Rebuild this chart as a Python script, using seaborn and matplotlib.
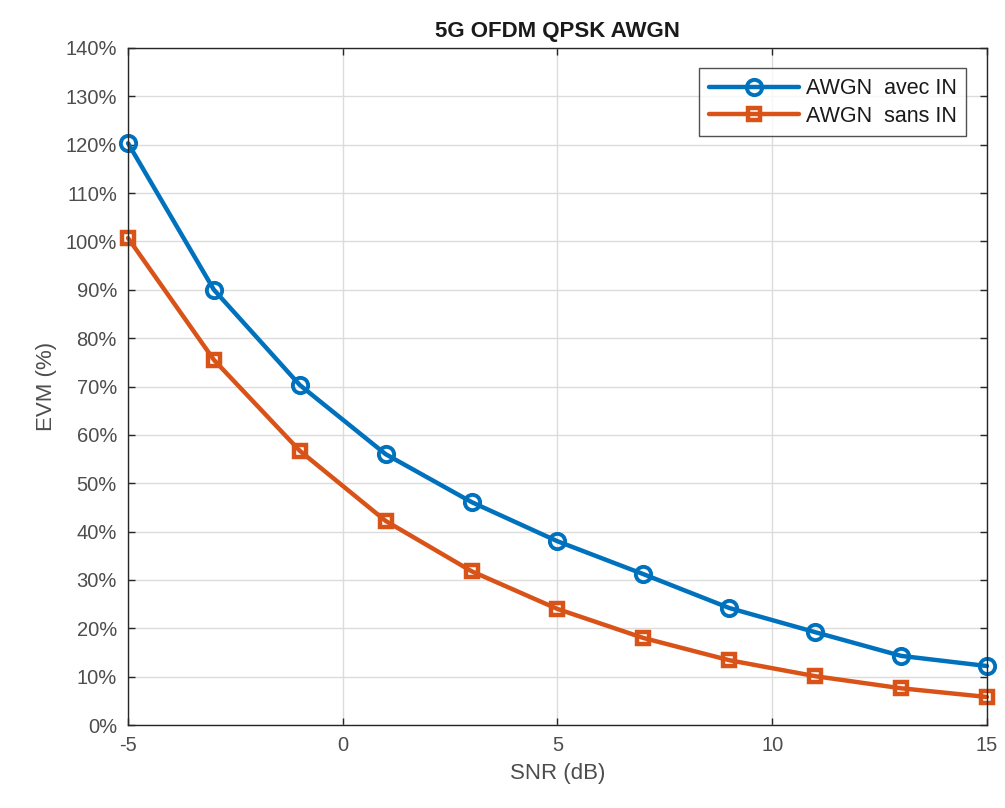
import matplotlib
matplotlib.use("Agg")
import matplotlib.pyplot as plt
import seaborn as sns
import pandas as pd
from matplotlib.ticker import FuncFormatter

snr = [-5, -3, -1, 1, 3, 5, 7, 9, 11, 13, 15]
evm_avec = [120.3, 90.0, 70.3, 56.0, 46.1, 38.0, 31.2, 24.2, 19.2, 14.3, 12.2]
evm_sans = [100.7, 75.5, 56.7, 42.2, 31.8, 24.0, 18.0, 13.4, 10.1, 7.6, 5.8]
labels = ["AWGN  avec IN", "AWGN  sans IN"]

df = pd.concat([
    pd.DataFrame({"SNR": snr, "EVM": evm_avec, "serie": labels[0]}),
    pd.DataFrame({"SNR": snr, "EVM": evm_sans, "serie": labels[1]}),
])

sns.set_theme(style="white")
plt.rcParams["font.family"] = ["Liberation Sans", "DejaVu Sans"]
plt.rcParams["axes.unicode_minus"] = False

fig = plt.figure(figsize=(10.05, 8.08), dpi=100)
ax = fig.add_axes([0.1274, 0.1027, 0.8546, 0.8379])

colors = {labels[0]: "#0072BD", labels[1]: "#D95319"}
sns.lineplot(data=df, x="SNR", y="EVM", hue="serie", style="serie",
             markers={labels[0]: "o", labels[1]: "s"}, dashes=False,
             palette=colors, linewidth=3.2, markersize=11,
             markerfacecolor="none", markeredgewidth=2.8, ax=ax, legend=False)
for line, lab in zip(ax.get_lines(), labels):
    line.set_markeredgecolor(colors[lab])
    line.set_markerfacecolor("none")
    line.set_label(lab)
    line.set_clip_on(False)
    if lab == labels[1]:
        line.set_markersize(9)
        line.set_markeredgewidth(3.2)

ax.set_xlim(-5, 15)
ax.set_ylim(0, 140)
ax.set_xticks([-5, 0, 5, 10, 15])
ax.set_yticks(range(0, 141, 10))
ax.yaxis.set_major_formatter(FuncFormatter(lambda v, p: f"{int(v)}%"))
ax.grid(True, color="#dcdcdc", linewidth=1.0)
ax.set_axisbelow(True)
for s in ax.spines.values():
    s.set_color("#262626")
    s.set_linewidth(1.0)
ax.tick_params(direction="in", length=5, width=1, colors="#262626",
               labelsize=14.5, labelcolor="#4d4d4d", top=True, right=True,
               bottom=True, left=True, pad=8)
ax.tick_params(axis="both", which="both", labeltop=False, labelright=False)
ax.set_xlabel("SNR (dB)", fontsize=16, color="#4d4d4d", labelpad=6)
ax.set_ylabel("EVM (%)", fontsize=16, color="#4d4d4d", labelpad=6)
ax.set_title("5G OFDM QPSK AWGN", fontsize=16, fontweight="bold", color="#1a1a1a", pad=8)

leg = ax.legend(loc="upper right", fontsize=15.5, frameon=True, fancybox=False,
                edgecolor="#262626", handlelength=4.2, borderaxespad=0.95,
                labelspacing=0.3, handletextpad=0.3, borderpad=0.45)
leg.get_frame().set_linewidth(1.0)
for t in leg.get_texts():
    t.set_color("#1a1a1a")

fig.savefig("out.png", dpi=100)
